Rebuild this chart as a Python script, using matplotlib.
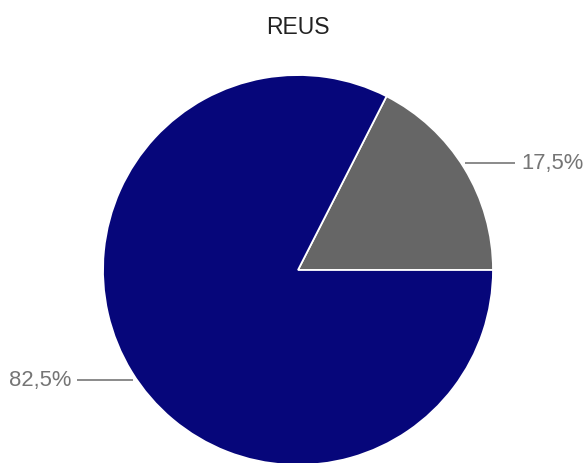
import numpy as np
import matplotlib.pyplot as plt

title = "REUS"
shares = [17.5, 82.5]
share_labels = ["17,5%", "82,5%"]
colors = ["#666666", "#06067a"]

W, H = 588, 464
fig = plt.figure(figsize=(W / 100, H / 100), dpi=100)
ax = fig.add_axes([0, 0, 1, 1])

cx, cy, r = 298, H - 271, 195
wedges, _ = ax.pie(shares, colors=colors, startangle=0, counterclock=True,
                   center=(cx, cy), radius=r,
                   wedgeprops=dict(edgecolor="white", linewidth=1.3))

ax.set_xlim(0, W)
ax.set_ylim(0, H)
ax.set_aspect("equal")
ax.axis("off")

font = ["Liberation Sans", "DejaVu Sans"]
label_color = "#757575"
line_color = "#777777"

# leader lines and labels for each slice
label_rows = [H - 164, H - 381]
line_lengths = [54, 60]
for w, txt, ly, ll in zip(wedges, share_labels, label_rows, line_lengths):
    mid = np.deg2rad((w.theta1 + w.theta2) / 2)
    side = 1 if np.cos(mid) > 0 else -1
    dy = ly - cy
    ex = cx + side * np.sqrt(max(r ** 2 - dy ** 2, 0))
    x0 = ex + side * 4
    x1 = ex + side * ll
    ax.plot([x0, x1], [ly, ly], color=line_color, lw=1.2, solid_capstyle="butt")
    ax.text(x1 + side * 6, ly, txt, ha="left" if side > 0 else "right",
            va="center", fontsize=15.8, color=label_color, family=font)

fig.text(298 / W, 1 - 27 / H, title, ha="center", va="center",
         fontsize=16.5, color="#222222", family=font)

fig.savefig("out.png", dpi=100, facecolor="white")
